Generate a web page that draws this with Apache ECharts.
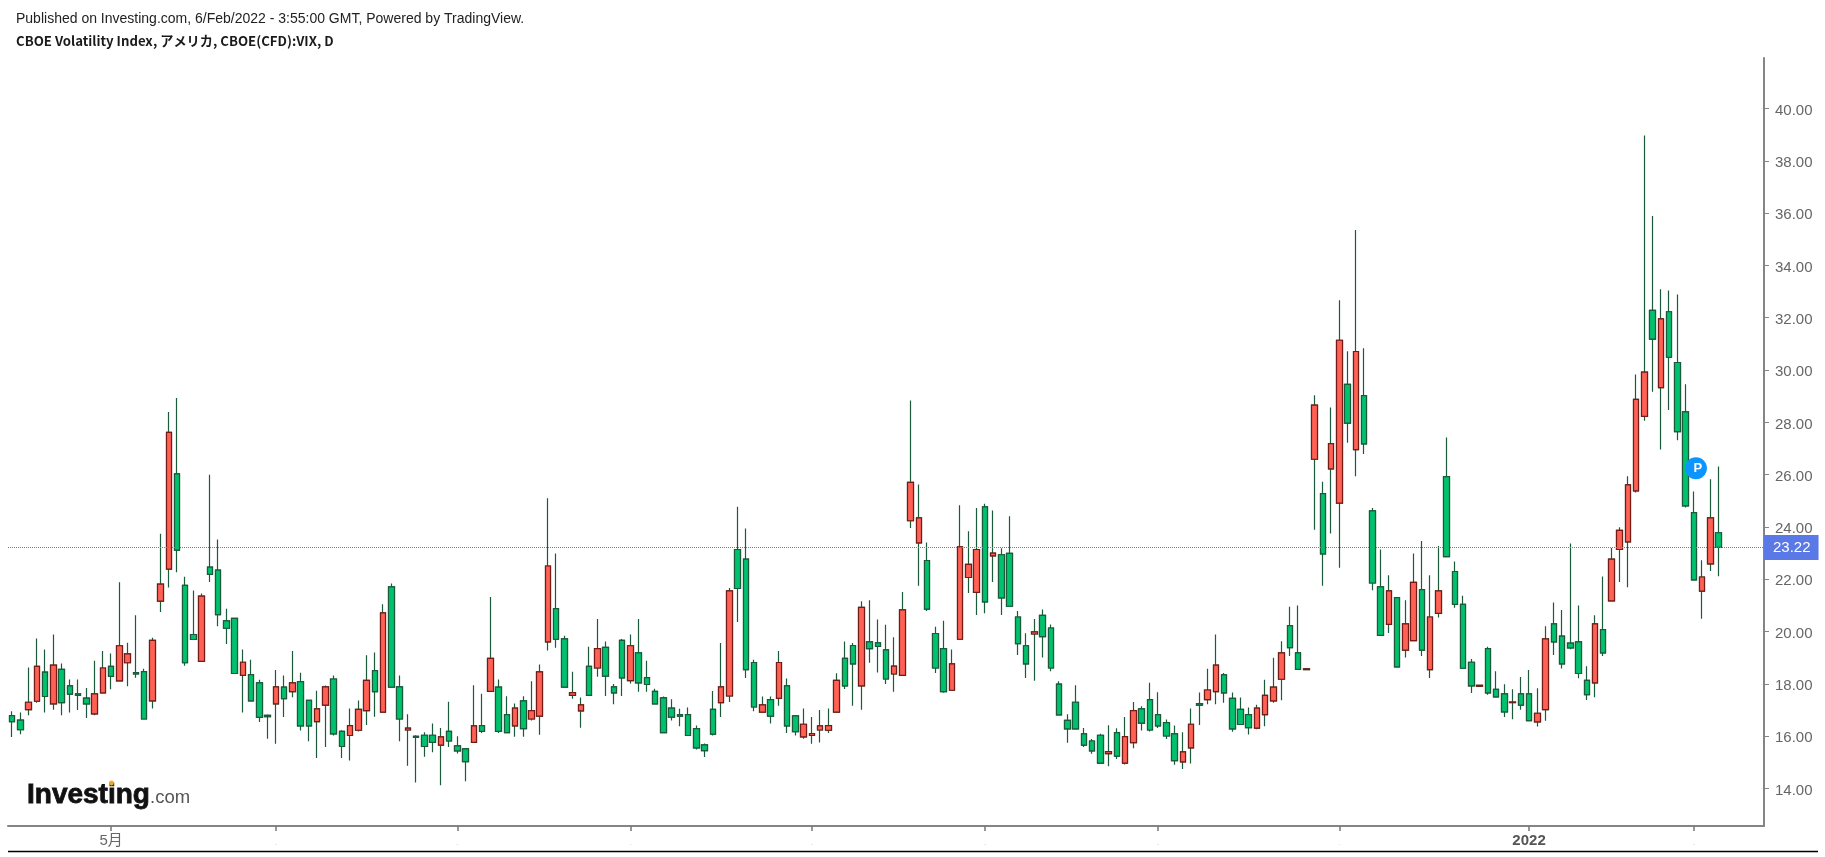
<!DOCTYPE html>
<html>
<head>
<meta charset="utf-8">
<style>html,body{margin:0;padding:0;background:#fff}#c{width:1825px;height:857px}</style>
<script src="https://cdn.jsdelivr.net/npm/echarts@6/dist/echarts.min.js"></script>
</head>
<body>
<div id="c"></div>
<script>
const opens = [
16.79,16.62,17.02,17.34,18.45,17.24,18.56,17.93,17.62,17.46,
16.86,17.66,18.67,18.12,18.81,18.43,18.47,17.35,21.17,22.39,
26.03,21.77,19.89,18.86,22.47,22.35,20.41,20.51,18.33,18.36,
18.04,16.80,17.24,17.88,17.71,18.09,17.37,16.56,17.19,18.19,
16.19,16.03,16.23,16.98,18.51,16.92,21.71,17.89,16.24,16.00,
16.04,16.04,15.66,16.19,15.63,15.52,15.77,16.41,17.72,17.88,
16.83,16.40,17.35,16.66,16.77,19.61,20.88,19.72,17.56,16.97,
18.67,18.61,19.40,17.89,19.67,18.13,19.19,18.24,17.72,17.47,
17.08,16.83,16.83,16.29,15.67,17.03,17.29,17.54,23.14,22.77,
18.82,16.92,17.40,17.45,17.93,16.78,15.98,16.03,16.24,16.23,
16.92,18.98,19.47,17.93,19.61,19.57,19.30,18.38,18.33,24.24,
23.39,22.72,19.93,19.35,17.76,19.71,22.07,21.50,24.77,22.90,
22.94,22.99,20.56,19.46,19.91,20.62,20.14,17.99,16.61,17.30,
16.09,15.82,16.04,15.34,16.14,14.97,15.76,17.05,17.40,16.83,
16.52,16.09,15.02,15.56,17.25,17.40,17.71,18.35,17.45,17.03,
16.83,16.31,16.83,17.35,18.18,20.23,19.19,18.55,26.59,25.28,
26.22,24.91,29.45,26.96,29.02,24.62,21.71,20.28,21.30,19.29,
19.66,21.61,18.55,20.70,25.93,22.30,21.04,18.83,17.91,19.35,
17.79,17.62,17.29,17.62,17.62,16.55,17.02,20.30,19.83,19.56,
19.61,18.14,18.04,20.08,21.18,23.14,23.43,25.38,28.23,32.28,
29.33,32.23,30.29,28.40,24.55,21.55,22.59,23.78];
const closes = [
16.56,16.25,17.30,18.67,17.52,18.72,17.29,17.61,17.56,17.24,
17.62,18.61,18.29,19.46,19.15,18.38,16.66,19.67,21.82,27.62,
23.12,18.81,19.70,21.36,22.19,20.65,20.13,18.40,18.83,17.35,
16.72,16.75,17.89,17.44,18.04,16.40,16.40,17.05,17.89,16.09,
15.61,16.41,17.03,18.14,17.71,20.72,17.88,16.66,16.31,15.96,
15.61,15.77,15.98,15.82,15.44,15.03,16.40,16.19,18.98,16.19,
16.14,17.08,16.29,16.98,18.46,22.51,19.71,17.88,17.67,17.20,
17.56,19.35,18.30,17.66,18.23,19.46,18.04,17.98,17.24,16.14,
16.73,16.77,16.03,15.56,15.45,16.08,17.89,21.56,21.65,18.55,
17.12,17.20,16.77,18.82,16.40,16.18,16.46,16.10,16.40,16.41,
18.14,17.93,18.77,20.93,19.35,19.44,18.19,18.68,20.83,25.71,
24.35,20.86,18.61,17.71,18.77,23.24,22.57,23.14,21.14,23.00,
21.29,20.97,19.54,18.77,19.99,19.81,18.61,16.82,16.28,16.28,
15.66,15.44,14.97,15.41,15.24,15.99,16.98,16.50,16.24,16.40,
16.01,15.07,15.40,16.46,17.19,17.77,18.72,17.66,16.28,16.45,
16.33,17.08,17.56,17.88,19.19,19.39,18.56,18.58,28.66,22.97,
27.19,31.14,27.97,30.71,27.18,21.86,19.86,21.56,18.65,20.30,
21.88,19.29,20.56,21.56,22.87,21.04,18.60,17.93,17.95,17.66,
17.51,16.93,17.31,17.19,16.60,16.88,19.72,19.61,18.77,19.38,
18.40,17.59,20.30,19.19,22.77,23.87,25.61,28.88,29.92,31.18,
31.96,30.49,27.65,24.81,21.98,22.09,24.35,23.22];
const lows = [
15.97,16.08,16.80,17.28,16.91,17.01,16.80,16.91,17.00,16.70,
16.80,17.66,17.80,18.12,17.91,18.24,16.66,17.06,20.75,21.69,
22.27,18.70,19.70,18.86,21.90,20.21,19.53,18.40,16.91,17.35,
16.55,15.91,15.71,16.74,17.49,16.22,15.81,15.17,15.59,16.03,
15.17,15.07,16.18,16.43,16.75,16.92,17.88,15.81,14.87,14.23,
15.22,15.39,14.13,15.59,15.34,14.28,15.77,16.13,17.72,16.13,
16.14,15.98,15.98,16.60,16.06,19.28,19.38,17.88,17.43,16.33,
17.56,18.28,17.54,17.22,17.54,18.02,17.70,17.70,17.24,16.14,
16.60,16.38,16.03,15.49,15.21,16.03,16.74,17.31,20.37,18.23,
16.96,16.92,16.49,17.17,16.13,16.03,15.91,15.71,15.76,16.13,
16.92,17.81,17.17,17.01,18.81,18.44,18.00,17.70,18.33,23.96,
21.75,20.79,18.42,17.66,17.76,19.71,21.48,20.64,20.70,21.90,
20.64,20.97,19.11,18.23,18.12,19.01,18.49,16.82,15.75,16.28,
15.59,15.33,14.97,14.85,15.13,14.92,15.54,16.22,16.18,16.32,
15.90,14.91,14.75,14.96,16.43,17.22,17.22,17.28,16.17,16.45,
16.07,16.27,16.38,17.28,17.38,19.07,18.56,18.53,23.90,21.75,
23.75,22.44,27.22,25.94,26.79,21.58,19.86,19.95,18.65,19.01,
19.66,19.07,18.23,20.54,22.87,20.91,18.60,17.65,17.90,17.59,
17.51,16.74,16.65,17.01,16.60,16.37,16.59,19.11,18.59,19.33,
18.22,17.39,17.49,19.07,21.18,21.90,21.70,25.32,28.06,29.17,
26.96,28.47,27.32,24.75,21.98,20.49,22.32,22.12];
const highs = [
16.96,16.91,18.63,19.74,19.32,19.89,18.78,18.17,18.17,17.85,
18.89,19.26,19.16,21.89,19.58,20.63,18.58,19.77,23.74,28.40,
28.93,22.10,21.57,21.46,26.00,23.52,20.88,20.53,19.32,18.93,
18.16,16.83,18.53,18.32,19.26,18.43,17.37,17.74,17.94,18.32,
16.23,17.06,17.37,19.10,19.20,21.05,21.84,18.32,16.84,16.04,
16.15,16.49,16.32,17.32,16.00,15.55,17.95,17.63,21.32,18.17,
17.53,17.25,17.53,18.10,18.74,25.10,22.99,19.84,18.47,17.48,
19.42,20.48,19.62,18.00,19.72,19.89,20.48,18.89,17.82,17.52,
17.42,17.05,17.10,16.41,15.72,17.73,19.57,21.67,24.77,23.94,
18.93,17.52,17.52,19.26,18.21,16.79,17.06,16.74,17.00,17.06,
18.41,19.62,19.57,21.16,21.20,20.46,20.26,19.79,21.52,28.84,
25.63,23.41,20.19,20.42,19.32,24.83,23.84,24.73,24.89,24.63,
23.19,24.41,20.79,19.94,20.48,20.85,20.27,18.10,16.84,17.95,
16.32,15.90,16.10,16.42,16.31,16.74,17.31,17.15,18.05,17.68,
16.64,16.41,16.15,17.06,17.67,18.58,19.89,18.42,17.67,17.48,
17.10,17.21,18.16,19.00,19.63,20.95,21.00,18.60,29.04,25.73,
28.57,32.67,30.72,35.35,30.83,24.73,23.14,22.16,21.30,21.20,
22.99,23.47,22.16,23.27,27.42,22.68,21.37,18.95,17.96,19.42,
18.49,17.99,17.80,18.27,18.53,17.84,20.21,21.11,20.83,23.37,
21.00,18.68,20.63,22.11,23.20,23.99,25.94,29.83,38.97,35.89,
33.09,33.04,32.89,29.46,25.36,22.73,25.83,26.31];
const tickIndices = [12,32,54,75,97,118,139,161,184,204];
const tickLabels  = ['5月','','','','','','','','2022',''];
const yTicks = [14,16,18,20,22,24,26,28,30,32,34,36,38,40];
const lastPrice = 23.22;
const pinIndex = 204, pinValue = 26.25;
const blankBars = 5;

const categories = opens.map((_, i) => String(i));
for (let k = 0; k < blankBars; k++) categories.push('');
const full = opens.map((o, i) => [o, closes[i], lows[i], highs[i]]);
const bodies = opens.map((o, i) => [o, closes[i], Math.min(o, closes[i]), Math.max(o, closes[i])]);

const WICK = '#1b5a3b', UP = '#ff6155', UPB = '#761a16', DN = '#00c16e', DNB = '#1b5a3b', AX = '#858585';
const FONT = 'Arial, "Liberation Sans", sans-serif';

const chart = echarts.init(document.getElementById('c'));
chart.setOption({
  animation: false,
  backgroundColor: '#ffffff',
  title: [
    {text: 'Published on Investing.com, 6/Feb/2022 - 3:55:00 GMT, Powered by TradingView.', left: 11, top: 7,
     textStyle: {fontFamily: FONT, fontSize: 14, fontWeight: 'normal', color: '#222'}},
    {text: 'CBOE Volatility Index, アメリカ, CBOE(CFD):VIX, D', left: 11, top: 29,
     textStyle: {fontFamily: '"Noto Sans CJK JP"', fontSize: 13.2, fontWeight: 'bold', color: '#1a1a1a'}}
  ],
  grid: {left: 8, right: 61, top: 58, bottom: 31},
  xAxis: {
    type: 'category', data: categories, boundaryGap: true,
    axisLine: {onZero: false, lineStyle: {color: AX, width: 2}},
    axisTick: {show: true, alignWithLabel: true, length: 5, lineStyle: {color: '#777', width: 1.5},
      interval: i => tickIndices.includes(i)},
    axisLabel: {
      margin: 7, hideOverlap: false,
      interval: i => tickIndices.includes(i),
      formatter: (v, i) => {
        const s = tickLabels[tickIndices.indexOf(i)];
        if (!s) return '{f|-}';
        return s === '2022' ? '{b|2022}' : '{n|' + s + '}';
      },
      rich: {
        n: {fontFamily: FONT + ',"Noto Sans CJK JP"', fontSize: 15, color: '#666'},
        b: {fontFamily: FONT, fontSize: 15, fontWeight: 'bold', color: '#555'},
        f: {fontSize: 6, color: '#ccc', padding: [8, 0, 0, 0]}
      }
    },
    splitLine: {show: false}
  },
  yAxis: {
    type: 'value', position: 'right', min: 12.57, max: 41.93, scale: true,
    axisLine: {show: true, onZero: false, lineStyle: {color: AX, width: 2}},
    axisTick: {show: true, length: 5, lineStyle: {color: AX, width: 1}, customValues: yTicks},
    axisLabel: {margin: 11, customValues: yTicks,
      formatter: v => '{a|' + v.toFixed(2) + '}',
      rich: {a: {fontFamily: FONT, fontSize: 15, color: '#666', padding: [4, 0, 0, 0]}}},
    splitLine: {show: false}
  },
  series: [
    {name: 'wicks', type: 'candlestick', data: full, barWidth: 6, large: false, silent: true,
     itemStyle: {color: DN, color0: DN, borderColor: WICK, borderColor0: WICK, borderWidth: 1.2}},
    {name: 'bodies', type: 'candlestick', data: bodies, barWidth: 6, large: false, silent: true,
     itemStyle: {color: UP, color0: DN, borderColor: UPB, borderColor0: DNB, borderWidth: 1.2},
     markLine: {
       silent: true, symbol: 'none', animation: false,
       lineStyle: {color: '#5b76e8', type: 'dotted', width: 1},
       label: {show: true, position: 'end', distance: 0, formatter: lastPrice.toFixed(2),
         fontFamily: FONT, fontSize: 15, color: '#fff', backgroundColor: '#5a78e6',
         padding: [6, 8, 4, 9]},
       data: [{yAxis: lastPrice}]
     },
     markPoint: {
       silent: true, symbol: 'circle', symbolSize: 22, symbolOffset: [2, 0],
       itemStyle: {color: '#0c95ff'},
       label: {show: true, formatter: 'P', color: '#fff', fontFamily: FONT, fontSize: 13, fontWeight: 'bold', offset: [2, 0]},
       data: [{coord: [pinIndex, pinValue]}]
     }}
  ],
  graphic: [
    {type: 'line', silent: true, shape: {x1: 8, y1: 851.5, x2: 1818, y2: 851.5}, style: {stroke: '#000', lineWidth: 1.5}},
    {type: 'text', silent: true, x: 27, y: 781, style: {text: 'Investing', fill: '#111', stroke: '#111', lineWidth: 0.8,
      font: 'bold 28px ' + FONT}},
    {type: 'text', silent: true, x: 150, y: 788, style: {text: '.com', fill: '#555', font: '18.5px ' + FONT}},
    {type: 'circle', silent: true, shape: {cx: 111.5, cy: 783, r: 2.4}, style: {fill: '#f5a623'}}
  ]
});
</script>
</body>
</html>
